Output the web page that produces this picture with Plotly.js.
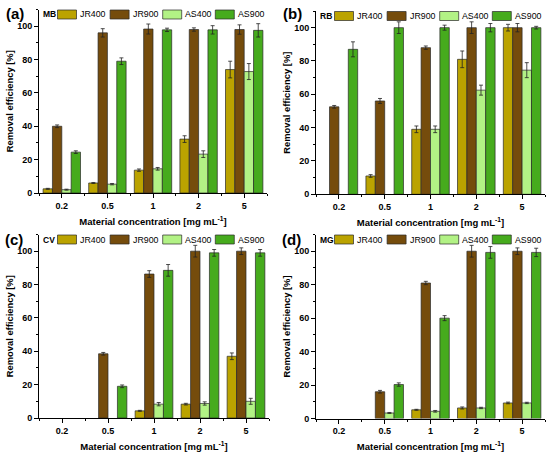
<!DOCTYPE html>
<html>
<head>
<meta charset="utf-8">
<script src="https://cdn.plot.ly/plotly-3.0.1.min.js"></script>
<style>html,body{margin:0;padding:0;background:#fff;}#chart{width:550px;height:457px;}</style>
</head>
<body>
<div id="chart"></div>
<script>
// ---------- data ----------
const categories = ['0.2', '0.5', '1', '2', '5'];
const seriesNames = ['JR400', 'JR900', 'AS400', 'AS900'];
const dyes = ['MB', 'RB', 'CV', 'MG'];
const panelLabels = ['(a)', '(b)', '(c)', '(d)'];

// (a) MB
const MB_JR400 = [2.5, 6, 13.7, 32.3, 74];
const MB_JR900 = [40, 96, 98.3, 98, 98];
const MB_AS400 = [2, 5.3, 14.5, 23.3, 72.8];
const MB_AS900 = [24.5, 79, 97.8, 97.8, 97.5];
const MB_JR400_err = [0.3, 0.3, 0.7, 2, 5];
const MB_JR900_err = [0.8, 2.5, 3, 1, 2.8];
const MB_AS400_err = [0.3, 0.4, 0.8, 2, 4.8];
const MB_AS900_err = [0.8, 2, 1, 2.5, 4];

// (b) RB
const RB_JR400 = [null, 11, 39, 81, 100];
const RB_JR900 = [52.5, 56, 88, 100, 100];
const RB_AS400 = [null, null, 39, 62.5, 74.5];
const RB_AS900 = [87, 100, 100, 100, 100];
const RB_JR400_err = [0, 0.8, 2, 5, 2];
const RB_JR900_err = [0.8, 1.5, 1, 3.5, 2.5];
const RB_AS400_err = [0, 0, 2, 3, 4.5];
const RB_AS900_err = [4.5, 3.5, 1.5, 2.5, 0.8];

// (c) CV
const CV_JR400 = [null, null, 4.3, 8.3, 37];
const CV_JR900 = [null, 38.5, 86.3, 100, 100];
const CV_AS400 = [null, null, 8.3, 8.7, 10];
const CV_AS900 = [null, 19, 88.5, 99, 99];
const CV_JR400_err = [0, 0, 0.3, 0.5, 2];
const CV_JR900_err = [0, 0.8, 2, 3.5, 2];
const CV_AS400_err = [0, 0, 1, 1, 1.8];
const CV_AS900_err = [0, 0.8, 3.5, 2, 2];

// (d) MG
const MG_JR400 = [null, null, 5.2, 6.3, 9.3];
const MG_JR900 = [null, 16, 81, 100, 100];
const MG_AS400 = [null, 3.3, 4.3, 6.3, 9.3];
const MG_AS900 = [null, 20.3, 60, 99.3, 99.3];
const MG_JR400_err = [0, 0, 0.3, 0.6, 0.5];
const MG_JR900_err = [0, 0.8, 1, 3.5, 2];
const MG_AS400_err = [0, 0.3, 0.5, 0.4, 0.4];
const MG_AS900_err = [0, 1, 1.5, 3.5, 2.5];

const yTitle = 'Removal efficiency [%]';
const xTitle = 'Material concentration [mg mL<sup>-1</sup>]';

// ---------- styles / layout ----------
const colors = ['#BBA300', '#754C0C', '#B2F285', '#46AB1D'];
const W = 550, H = 457;
const FONT = '"Liberation Sans", Arial, Helvetica, sans-serif';
const boxes = [
  {left: 39, right: 267, top: 9.5, bottom: 193},
  {left: 316, right: 545, top: 11, bottom: 194.3},
  {left: 39, right: 269, top: 234.5, bottom: 418},
  {left: 316, right: 545, top: 234.5, bottom: 418.5}
];
const labelPos = [[15, 14], [292, 14], [14, 239.5], [291, 239.5]];

const values = [
  [MB_JR400, MB_JR900, MB_AS400, MB_AS900],
  [RB_JR400, RB_JR900, RB_AS400, RB_AS900],
  [CV_JR400, CV_JR900, CV_AS400, CV_AS900],
  [MG_JR400, MG_JR900, MG_AS400, MG_AS900]
];
const errors = [
  [MB_JR400_err, MB_JR900_err, MB_AS400_err, MB_AS900_err],
  [RB_JR400_err, RB_JR900_err, RB_AS400_err, RB_AS900_err],
  [CV_JR400_err, CV_JR900_err, CV_AS400_err, CV_AS900_err],
  [MG_JR400_err, MG_JR900_err, MG_AS400_err, MG_AS900_err]
];

const xIdx = categories.map((c, i) => i);
const bounds = [-0.5].concat(categories.map((c, i) => i + 0.5));

const traces = [];
const layout = {
  width: W, height: H, autosize: false,
  margin: {l: 0, r: 0, t: 0, b: 0},
  paper_bgcolor: '#fff', plot_bgcolor: 'rgba(0,0,0,0)',
  font: {family: FONT, color: '#000'},
  barmode: 'group', bargap: 0.18, bargroupgap: 0,
  showlegend: false,
  shapes: [], annotations: []
};

boxes.forEach((b, p) => {
  const sfx = p === 0 ? '' : String(p + 1);
  values[p].forEach((vals, s) => {
    traces.push({
      type: 'bar', name: seriesNames[s], x: xIdx, y: vals,
      xaxis: 'x' + sfx, yaxis: 'y' + sfx,
      marker: {color: colors[s], line: {color: '#2a2a2a', width: 0.7}},
      error_y: {type: 'data', array: errors[p][s], visible: true, color: '#222', thickness: 0.8, width: 2},
      hoverinfo: 'x+y+name', showlegend: false
    });
  });
  layout['xaxis' + sfx] = {
    domain: [b.left / W, b.right / W], anchor: 'y' + sfx,
    range: [-0.5, 4.5], tickmode: 'array', tickvals: xIdx, ticktext: categories,
    ticks: 'outside', ticklen: 4, tickwidth: 1, tickcolor: '#000',
    minor: {tickmode: 'array', tickvals: bounds, ticks: 'outside', ticklen: 2, tickwidth: 1, tickcolor: '#000'},
    showline: true, linecolor: '#000', linewidth: 1, showgrid: false, zeroline: false,
    tickfont: {family: FONT, size: 9, color: '#000', weight: 'bold'},
    title: {text: xTitle, font: {family: FONT, size: 9.5, color: '#000', weight: 'bold'}, standoff: 8},
    automargin: false, fixedrange: true
  };
  layout['yaxis' + sfx] = {
    domain: [1 - b.bottom / H, 1 - b.top / H], anchor: 'x' + sfx,
    range: [0, 110], tickmode: 'linear', tick0: 0, dtick: 20,
    ticks: 'outside', ticklen: 4, tickwidth: 1, tickcolor: '#000',
    minor: {dtick: 10, ticks: 'outside', ticklen: 2, tickwidth: 1, tickcolor: '#000'},
    showline: true, linecolor: '#000', linewidth: 1, showgrid: false, zeroline: false,
    tickfont: {family: FONT, size: 9, color: '#000', weight: 'bold'},
    title: {text: yTitle, font: {family: FONT, size: 9.4, color: '#000', weight: 'bold'}, standoff: 1},
    automargin: false, fixedrange: true
  };
  // panel label
  layout.annotations.push({
    xref: 'paper', yref: 'paper', x: labelPos[p][0] / W, y: 1 - labelPos[p][1] / H,
    xanchor: 'center', yanchor: 'middle', showarrow: false, borderpad: 0,
    text: panelLabels[p], font: {family: FONT, size: 15, color: '#000', weight: 'bold'}
  });
  // legend (drawn inside the top of each panel)
  const cy = b.top + 5;
  layout.annotations.push({
    xref: 'paper', yref: 'paper', x: (b.left + 2) / W, y: 1 - cy / H,
    xanchor: 'left', yanchor: 'middle', showarrow: false,
    text: dyes[p], font: {family: FONT, size: 8.5, color: '#000', weight: 'bold'}
  });
  seriesNames.forEach((nm, s) => {
    const x0 = b.left + 18.5 + s * 52.6;
    layout.shapes.push({
      type: 'rect', xref: 'paper', yref: 'paper', layer: 'above',
      x0: x0 / W, x1: (x0 + 19) / W, y0: 1 - (cy + 4.5) / H, y1: 1 - (cy - 4.5) / H,
      fillcolor: colors[s], line: {color: '#2a2a2a', width: 0.7}
    });
    layout.annotations.push({
      xref: 'paper', yref: 'paper', x: (x0 + 20.5) / W, y: 1 - cy / H,
      xanchor: 'left', yanchor: 'middle', showarrow: false,
      text: nm, font: {family: FONT, size: 8.8, color: '#000'}
    });
  });
});

Plotly.newPlot('chart', traces, layout, {displayModeBar: false, staticPlot: true});
</script>
</body>
</html>
